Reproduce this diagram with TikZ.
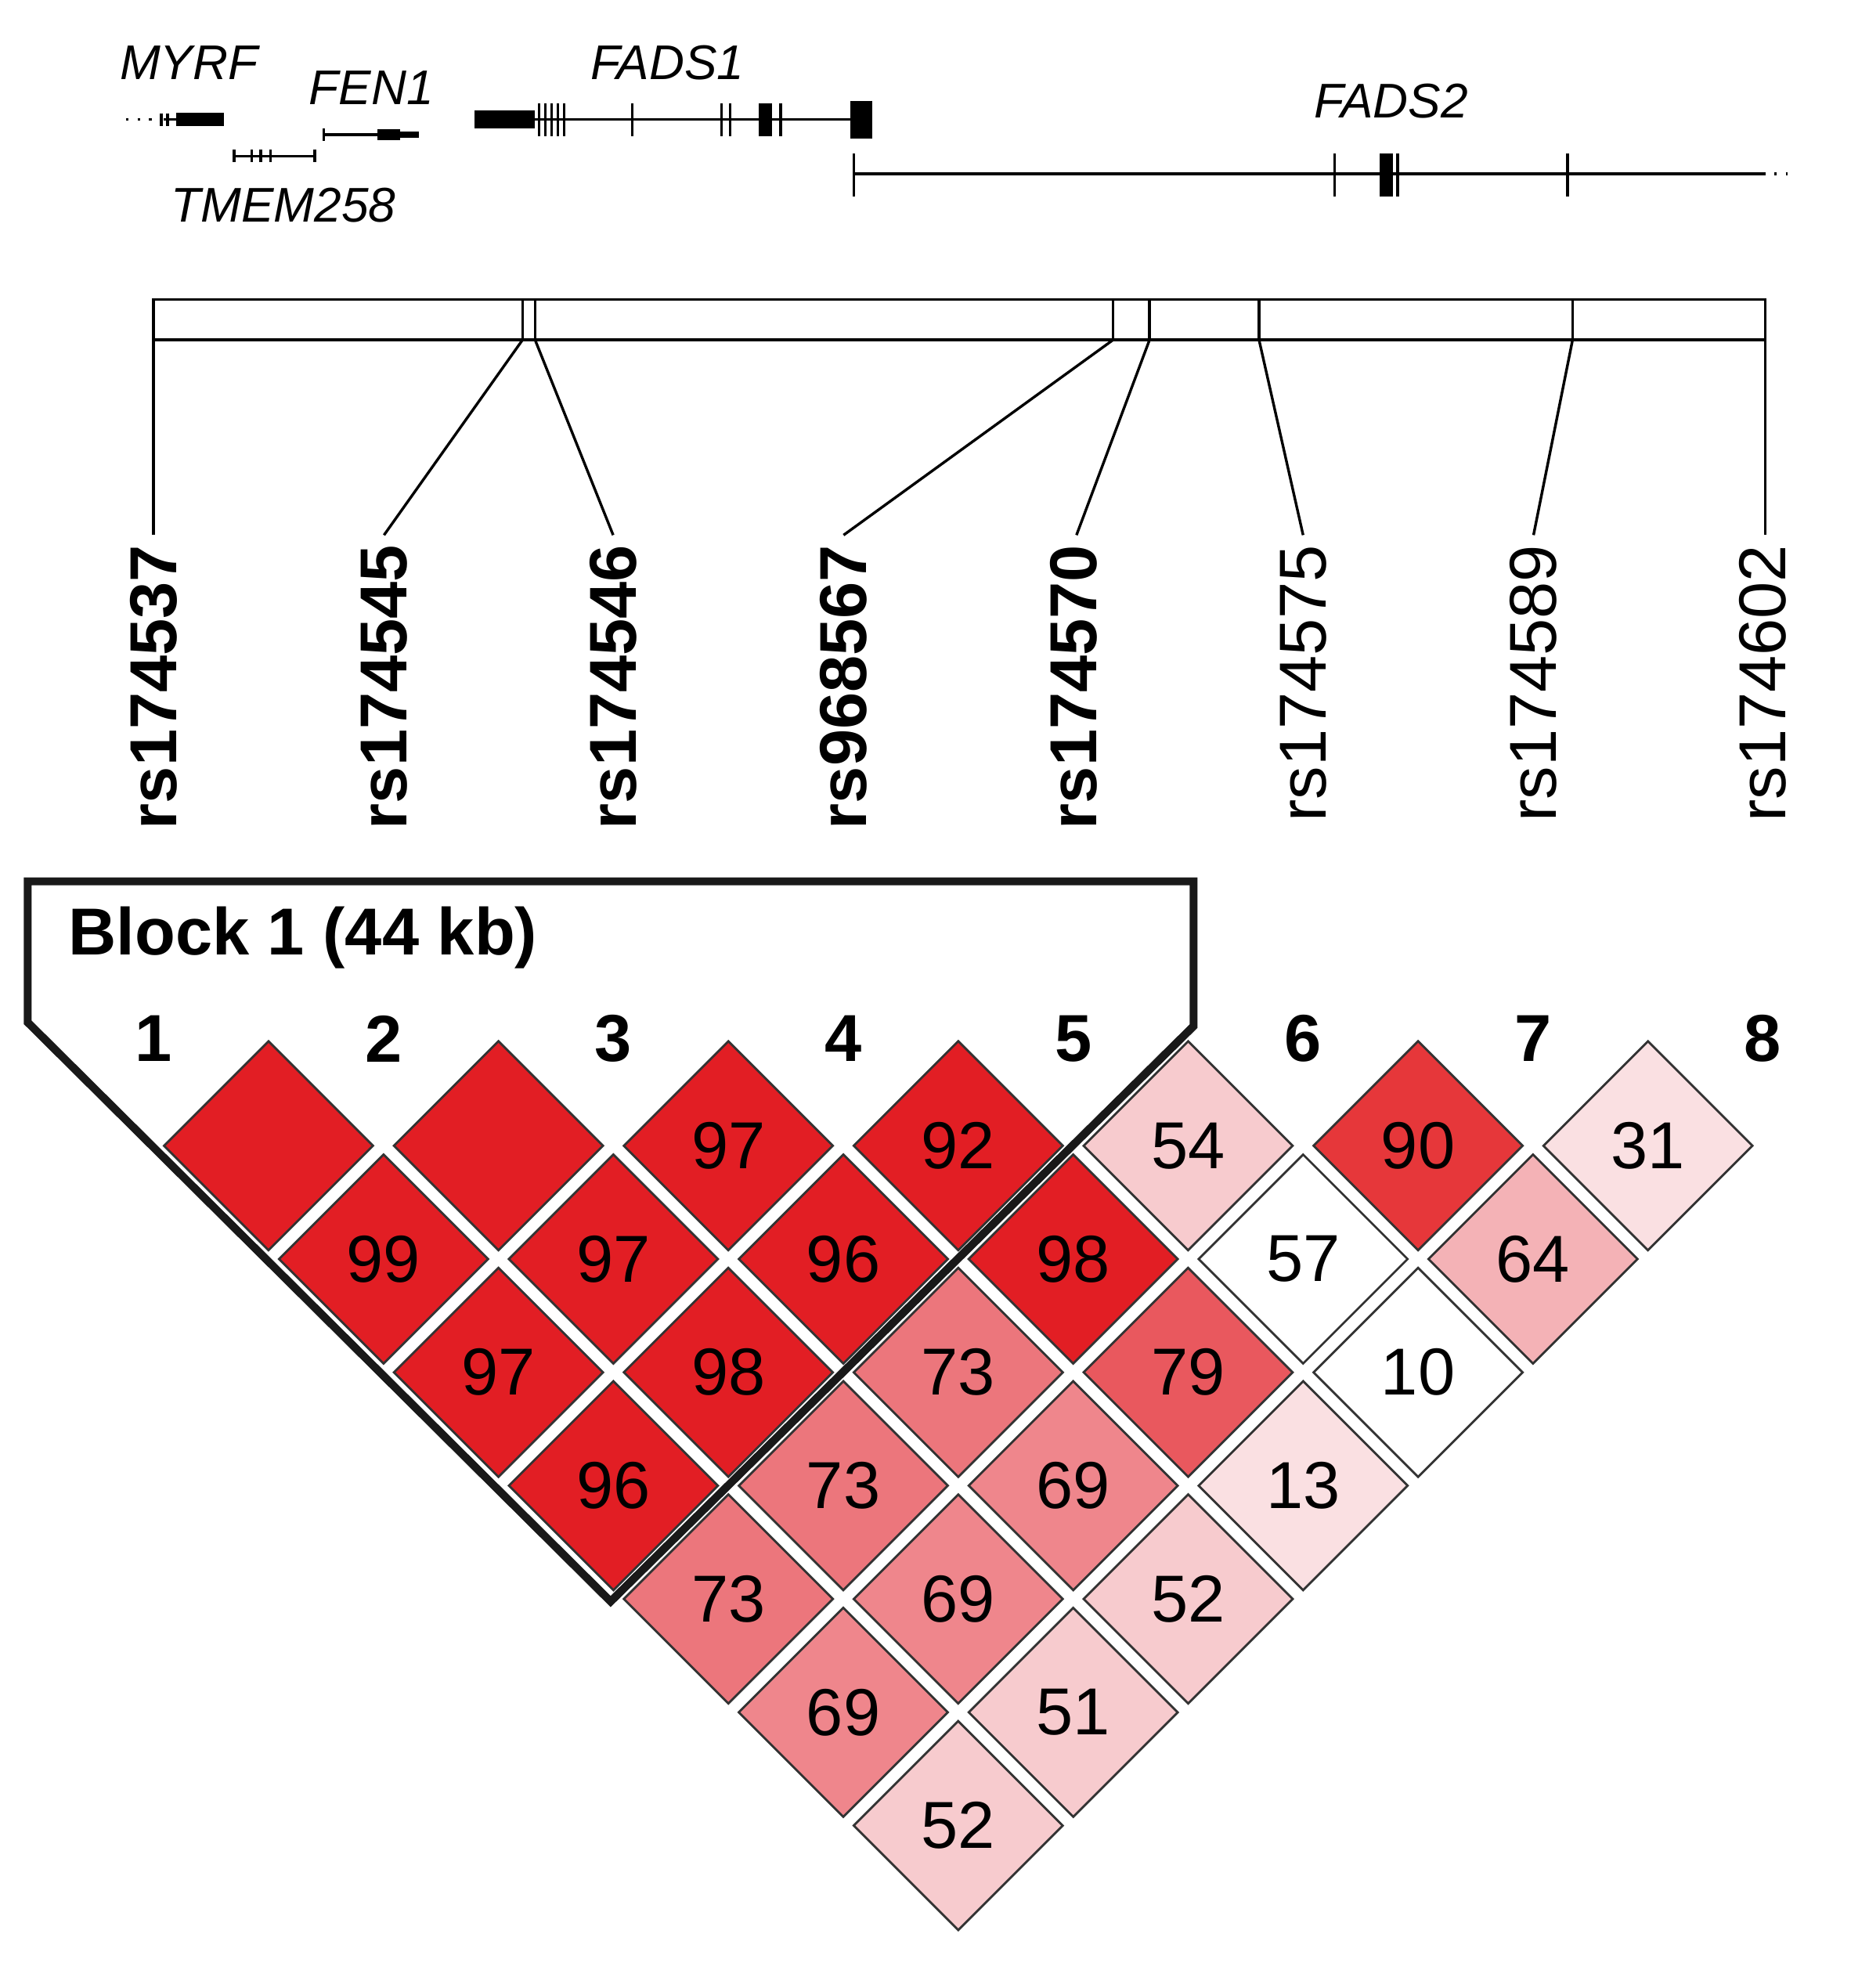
\documentclass[tikz,border=0pt]{standalone}
\usepackage{fontspec}
\setmainfont{Liberation Sans}
\usepackage{xcolor}
\usetikzlibrary{positioning}
\definecolor{LDred}{RGB}{226,30,36}
\definecolor{LDnine}{RGB}{230,55,58}
\definecolor{LDhigh}{RGB}{233,88,94}
\definecolor{LDmid}{RGB}{236,118,124}
\definecolor{LDsix}{RGB}{239,134,140}
\definecolor{LDlow}{RGB}{244,178,182}
\definecolor{LDpale}{RGB}{247,203,206}
\definecolor{LDfaint}{RGB}{250,224,226}
\begin{document}
\begin{tikzpicture}[x=0.01cm, y=-0.01cm]
  \tikzset{
    gene/.style={font=\fontsize{11}{11}\selectfont\itshape, inner sep=0pt},
    snp/.style={font=\fontsize{15}{15}\selectfont, rotate=90, anchor=east, inner sep=0pt},
    snpb/.style={snp, font=\fontsize{15}{15}\selectfont\bfseries},
    idx/.style={font=\fontsize{15}{15}\selectfont\bfseries},
    ldval/.style={font=\fontsize{15}{15}\selectfont, inner sep=0pt},
    cell/.style={draw=black!80, line width=0.5pt},
    track/.style={line width=0.6pt},
    exon/.style={line width=3pt},
    block/.style={draw=black!90, line width=1.8pt, line join=miter}
  }
  \useasboundingbox (0,0) rectangle (1470,1579);

  % gene track
  \draw[track, dotted] (100,95) -- (130,95);
  \draw[track] (130,95) -- (140,95);
  \draw[exon] (140,95) -- (178,95);
  \draw[track] (128,90) -- (128,100) (133,90) -- (133,100);
  \node[gene] (myrf) at (150,50) {MYRF};
  \draw[track] (186,124) -- (250,124);
  \foreach \x in {186,200,207,215,250} \draw[track] (\x,119) -- (\x,129);
  \node[gene] (tmem) at (225,163) {TMEM258};
  \draw[track] (257,107) -- (300,107);
  \draw[line width=2.5pt] (300,107) -- (318,107);
  \draw[line width=1.5pt] (318,107) -- (333,107);
  \draw[track] (257,102) -- (257,112);
  \node[gene] (fen) at (295,70) {FEN1};
  \draw[track] (377,95) -- (688,95);
  \draw[line width=4pt] (377,95) -- (425,95);
  \foreach \x in {428,433,438,443,448,502,573,580,620} \draw[track] (\x,82) -- (\x,108);
  \draw[line width=3pt] (608,82) -- (608,108);
  \draw[line width=5pt] (684,80) -- (684,110);
  \node[gene] (fads1) at (530,50) {FADS1};
  \draw[track] (678,138) -- (1400,138);
  \draw[track, dotted] (1400,138) -- (1420,138);
  \foreach \x in {678,1060,1110,1245} \draw[track] (\x,122) -- (\x,156);
  \draw[line width=3pt] (1101,122) -- (1101,156);
  \node[gene] (fads2) at (1105,80) {FADS2};

  % SNP map
  \draw[track] (122,238) rectangle (1402,270);
  \foreach \x in {415,425,884,913,1000,1249} \draw[track] (\x,238) -- (\x,270);
  \foreach \n/\m/\x in {1/122/122, 2/415/305, 3/425/487, 4/884/670,
                        5/913/855, 6/1000/1035, 7/1249/1218, 8/1402/1402}{
    \coordinate (m\n) at (\m,270);
    \coordinate (t\n) at (\x,425);
  }
  \node[snpb] (s1) at (122,432) {rs174537};
  \node[snpb] (s2) at (305,432) {rs174545};
  \node[snpb] (s3) at (487,432) {rs174546};
  \node[snpb] (s4) at (670,432) {rs968567};
  \node[snpb] (s5) at (853,432) {rs174570};
  \node[snp] (s6) at (1035,432) {rs174575};
  \node[snp] (s7) at (1218,432) {rs174589};
  \node[snp] (s8) at (1400,432) {rs174602};
  \foreach \n in {1,...,8} \draw[track] (m\n) -- (t\n);

  % LD plot
  \foreach \i in {1,...,8} \node[idx] (n\i) at ({122+(\i-1)*182.6},825) {\i};
  \foreach \i/\j/\v/\c in {1/2//LDred, 2/3//LDred, 3/4/97/LDred, 4/5/92/LDred, 5/6/54/LDpale,
      6/7/90/LDnine, 7/8/31/LDfaint, 1/3/99/LDred, 2/4/97/LDred, 3/5/96/LDred, 4/6/98/LDred,
      5/7/57/white, 6/8/64/LDlow, 1/4/97/LDred, 2/5/98/LDred, 3/6/73/LDmid, 4/7/79/LDhigh,
      5/8/10/white, 1/5/96/LDred, 2/6/73/LDmid, 3/7/69/LDsix, 4/8/13/LDfaint, 1/6/73/LDmid,
      2/7/69/LDsix, 3/8/52/LDpale, 1/7/69/LDsix, 2/8/51/LDpale, 1/8/52/LDpale}{
    \pgfmathsetmacro\cx{122+(\i+\j-2)*91.3}
    \pgfmathsetmacro\cy{910+(\j-\i-1)*90}
    \fill[\c] (\cx,\cy-83) -- (\cx+83,\cy) -- (\cx,\cy+83) -- (\cx-83,\cy) -- cycle;
    \draw[cell] (\cx,\cy-83) -- (\cx+83,\cy) -- (\cx,\cy+83) -- (\cx-83,\cy) -- cycle;
    \node[ldval] (d\i\j) at (\cx,\cy) {\v};
  }
  \draw[block] (22,700) -- (948,700) -- (948,815) -- (485,1272) -- (22,812) -- cycle;
  \node[font=\fontsize{15}{15}\selectfont\bfseries, anchor=west] (blk) at (42,745) {Block 1 (44 kb)};
\end{tikzpicture}
\end{document}
